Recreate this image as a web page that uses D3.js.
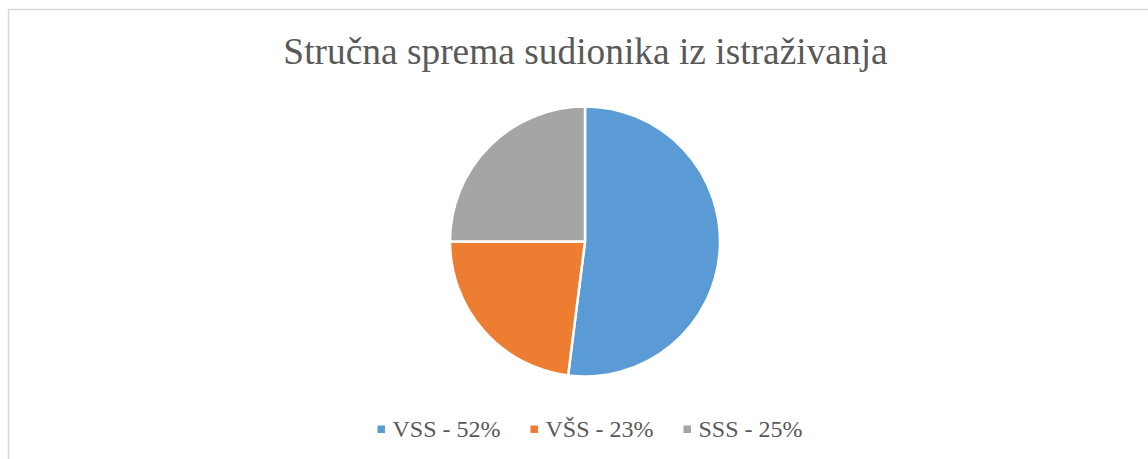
<!DOCTYPE html>
<html><head><meta charset="utf-8">
<script src="https://cdn.jsdelivr.net/npm/d3@7"></script>
<style>html,body{margin:0;padding:0;background:#fff;}svg{display:block;}</style>
</head><body>
<svg id="chart" width="1148" height="459"></svg>
<script>
const title = "Stručna sprema sudionika iz istraživanja";
const categories = ["VSS", "VŠS", "SSS"];
const values = [52, 23, 25];
const colors = ["#5B9BD5", "#ED7D31", "#A5A5A5"];

const svg = d3.select("#chart");
const W = 1148, H = 459;
const serif = "'Liberation Serif','Times New Roman',serif";
svg.append("rect").attr("x", 8.5).attr("y", 9.5).attr("width", W + 10).attr("height", H + 10)
  .attr("fill", "#fff").attr("stroke", "#D9D9D9").attr("stroke-width", 1.5);

svg.append("text").attr("x", 585.5).attr("y", 64).attr("text-anchor", "middle")
  .attr("font-family", serif).attr("font-size", 37.4)
  .attr("fill", "#595959").text(title);

const cx = 585, cy = 241.5, r = 135;
const pie = d3.pie().sort(null).value(d => d.v);
const arc = d3.arc().innerRadius(0).outerRadius(r);
const data = categories.map((c, i) => ({c, v: values[i], col: colors[i]}));
const g = svg.append("g").attr("transform", `translate(${cx},${cy})`);
g.selectAll("path").data(pie(data)).enter().append("path")
  .attr("d", arc).attr("fill", d => d.data.col)
  .attr("stroke", "#fff").attr("stroke-width", 2.5).attr("stroke-linejoin", "round");

// legend
const lg = svg.append("g");
const fs = 24;
let items = data.map(d => ({label: `${d.c} - ${d.v}%`, col: d.col}));
const tmp = lg.append("text").attr("font-family", serif).attr("font-size", fs);
items.forEach(it => { tmp.text(it.label); it.w = tmp.node().getComputedTextLength(); });
tmp.remove();
const markerGap = 15, itemGap = 30;
const total = d3.sum(items, it => markerGap + it.w) + itemGap * (items.length - 1);
let x = 590 - total / 2;
const ly = 437;
items.forEach(it => {
  lg.append("rect").attr("x", x).attr("y", ly - 11.5).attr("width", 7.5).attr("height", 7.5).attr("fill", it.col);
  lg.append("text").attr("x", x + markerGap).attr("y", ly)
    .attr("font-family", serif).attr("font-size", fs)
    .attr("fill", "#595959").text(it.label);
  x += markerGap + it.w + itemGap;
});
</script>
</body></html>
